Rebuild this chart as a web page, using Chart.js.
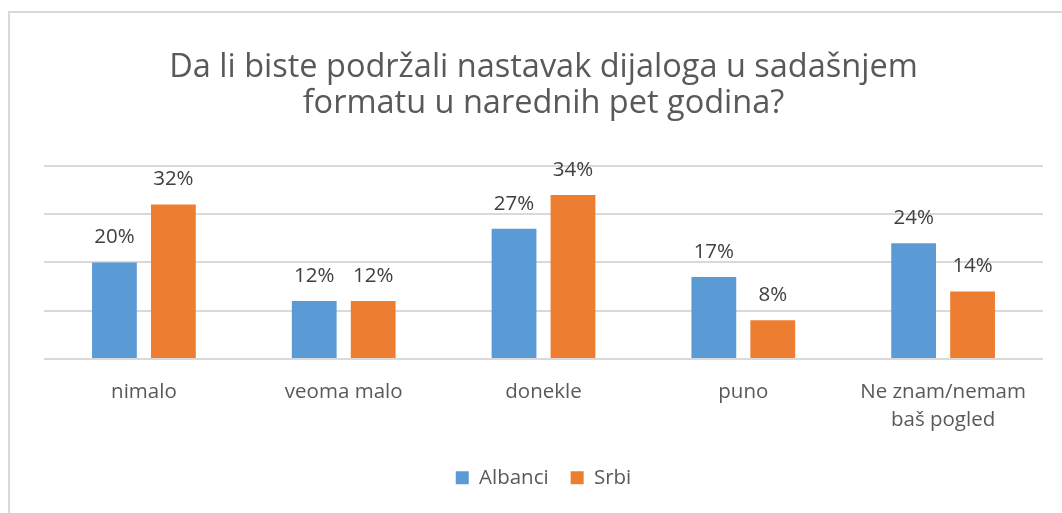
<!DOCTYPE html>
<html>
<head>
<meta charset="utf-8">
<script src="https://cdn.jsdelivr.net/npm/chart.js@4"></script>
<style>
  html, body { margin: 0; padding: 0; background: #fff; }
  #wrap { position: relative; width: 1062px; height: 513px; }
  #frame {
    position: absolute; left: 8px; top: 11px; right: 0; bottom: 0;
    border-left: 2px solid #d9d9d9; border-top: 2px solid #d9d9d9;
  }
  #barChart { position: absolute; left: 0; top: 0; }
</style>
</head>
<body>
<div id="wrap">
  <div id="frame"></div>
  <canvas id="barChart" width="1062" height="513"></canvas>
</div>
<script>
const categories = ['nimalo', 'veoma malo', 'donekle', 'puno', ['Ne znam/nemam', 'baš pogled']];
const albanci = [20, 12, 27, 17, 24];
const srbi = [32, 12, 34, 8, 14];
const yTicks = [0, 10, 20, 30, 40];

const FONT = "'Open Sans', sans-serif";

// labels above bars (no datalabels plugin available)
const barLabels = {
  id: 'barLabels',
  afterDatasetsDraw(chart) {
    const ctx = chart.ctx;
    ctx.save();
    ctx.font = '20.5px ' + FONT;
    ctx.fillStyle = '#404040';
    ctx.textAlign = 'center';
    ctx.textBaseline = 'middle';
    chart.data.datasets.forEach((ds, i) => {
      chart.getDatasetMeta(i).data.forEach((bar, j) => {
        ctx.fillText(ds.data[j] + '%', bar.x, bar.y - 25);
      });
    });
    ctx.restore();
  }
};

const ctx = document.getElementById('barChart').getContext('2d');

new Chart(ctx, {
  type: 'bar',
  data: {
    labels: categories,
    datasets: [
      {
        label: 'Albanci',
        data: albanci,
        backgroundColor: '#5B9BD5',
        categoryPercentage: 0.59,
        barPercentage: 0.76
      },
      {
        label: 'Srbi',
        data: srbi,
        backgroundColor: '#ED7D31',
        categoryPercentage: 0.59,
        barPercentage: 0.76
      }
    ]
  },
  options: {
    responsive: false,
    animation: false,
    layout: {
      padding: { left: 44, right: 19, top: 50, bottom: 15 }
    },
    scales: {
      y: {
        min: yTicks[0],
        max: yTicks[yTicks.length - 1],
        ticks: { display: false, stepSize: 10 },
        afterBuildTicks: (axis) => { axis.ticks = yTicks.map(v => ({ value: v })); },
        afterFit: (axis) => { axis.width = 0; },
        grid: { color: '#d9d9d9', lineWidth: 2, drawTicks: false },
        border: { display: false }
      },
      x: {
        ticks: { color: '#595959', font: { family: FONT, size: 20.5, lineHeight: 1.38 }, padding: 19 },
        afterFit: (axis) => { axis.height = axis.height - 8; },
        grid: { display: false, drawTicks: false },
        border: { display: false }
      }
    },
    plugins: {
      title: {
        display: true,
        text: ['Da li biste podržali nastavak dijaloga u sadašnjem', 'formatu u narednih pet godina?'],
        color: '#595959',
        font: { family: FONT, size: 32.5, weight: 'normal', lineHeight: 1.1 },
        padding: { top: 0, bottom: 44.5 }
      },
      legend: {
        position: 'bottom',
        labels: {
          color: '#595959',
          font: { family: FONT, size: 20.5 },
          boxWidth: 13,
          boxHeight: 13,
          padding: 22
        }
      },
      tooltip: { enabled: false }
    }
  },
  plugins: [barLabels]
});
</script>
</body>
</html>
